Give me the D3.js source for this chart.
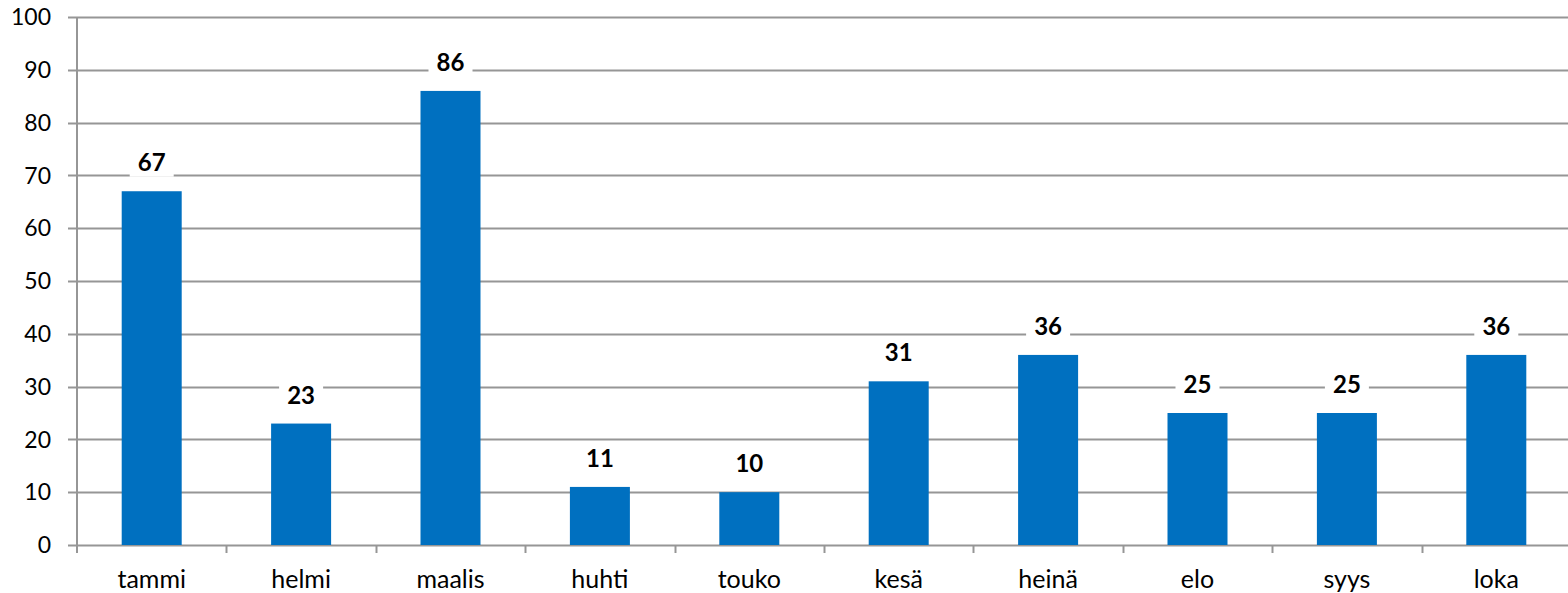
<!DOCTYPE html>
<html>
<head>
<meta charset="utf-8">
<script src="https://cdn.jsdelivr.net/npm/d3@7"></script>
<style>
  body { margin: 0; background: #fff; }
  svg { display: block; }
  text { font-family: Lato, "Open Sans", sans-serif; }
</style>
</head>
<body>
<div id="chart"></div>
<script>
// Monthly values.
const months = ["tammi", "helmi", "maalis", "huhti", "touko", "kesä", "heinä", "elo", "syys", "loka"];
const values = [67, 23, 86, 11, 10, 31, 36, 25, 25, 36];
const yTicks = [0, 10, 20, 30, 40, 50, 60, 70, 80, 90, 100];

const width = 1568, height = 593;
const plotLeft = 77, plotTop = 17, plotBottom = 545;
const plotRight = plotLeft + 10 * 149.4;

const svg = d3.select("#chart").append("svg")
    .attr("width", width)
    .attr("height", height);

const x = d3.scaleBand()
    .domain(months)
    .range([plotLeft, plotRight])
    .paddingInner(0)
    .paddingOuter(0);

const y = d3.scaleLinear()
    .domain([0, 100])
    .range([plotBottom, plotTop]);

// gridlines
svg.append("g")
    .selectAll("line")
    .data(yTicks)
    .join("line")
    .attr("x1", 68)
    .attr("x2", plotRight)
    .attr("y1", d => Math.round(y(d)) + 0.5)
    .attr("y2", d => Math.round(y(d)) + 0.5)
    .attr("stroke", "#969696")
    .attr("stroke-width", 2);

// y axis line
svg.append("line")
    .attr("x1", plotLeft).attr("x2", plotLeft)
    .attr("y1", plotTop).attr("y2", plotBottom + 8)
    .attr("stroke", "#969696")
    .attr("stroke-width", 2);

// y tick labels
svg.append("g")
    .selectAll("text")
    .data(yTicks)
    .join("text")
    .attr("x", 51)
    .attr("y", d => y(d))
    .attr("dy", "0.36em")
    .attr("text-anchor", "end")
    .attr("font-size", 23)
    .attr("fill", "#000")
    .text(d => d);

// x ticks between categories
svg.append("g")
    .selectAll("line")
    .data(months.slice(1))
    .join("line")
    .attr("x1", d => Math.round(x(d)) + 0.5)
    .attr("x2", d => Math.round(x(d)) + 0.5)
    .attr("y1", plotBottom)
    .attr("y2", plotBottom + 8)
    .attr("stroke", "#969696")
    .attr("stroke-width", 2);

// bars
const barW = 60;
svg.append("g")
    .selectAll("rect")
    .data(values)
    .join("rect")
    .attr("x", (d, i) => x(months[i]) + x.bandwidth() / 2 - barW / 2)
    .attr("y", d => y(d))
    .attr("width", barW)
    .attr("height", d => plotBottom - y(d))
    .attr("fill", "#0070C0");

// x labels
svg.append("g")
    .selectAll("text")
    .data(months)
    .join("text")
    .attr("x", d => x(d) + x.bandwidth() / 2)
    .attr("y", 588)
    .attr("text-anchor", "middle")
    .attr("font-size", 25)
    .attr("fill", "#000")
    .text(d => d);

// value labels with white boxes
const lab = svg.append("g")
    .selectAll("g")
    .data(values)
    .join("g")
    .attr("transform", (d, i) =>
        `translate(${x(months[i]) + x.bandwidth() / 2},${y(d) - 28.5})`);

lab.append("rect")
    .attr("x", -22)
    .attr("y", -14)
    .attr("width", 44)
    .attr("height", 28)
    .attr("fill", "#fff");

lab.append("text")
    .attr("text-anchor", "middle")
    .attr("dy", "0.36em")
    .attr("font-size", 24)
    .attr("font-weight", "bold")
    .attr("fill", "#000")
    .text(d => d);
</script>
</body>
</html>
